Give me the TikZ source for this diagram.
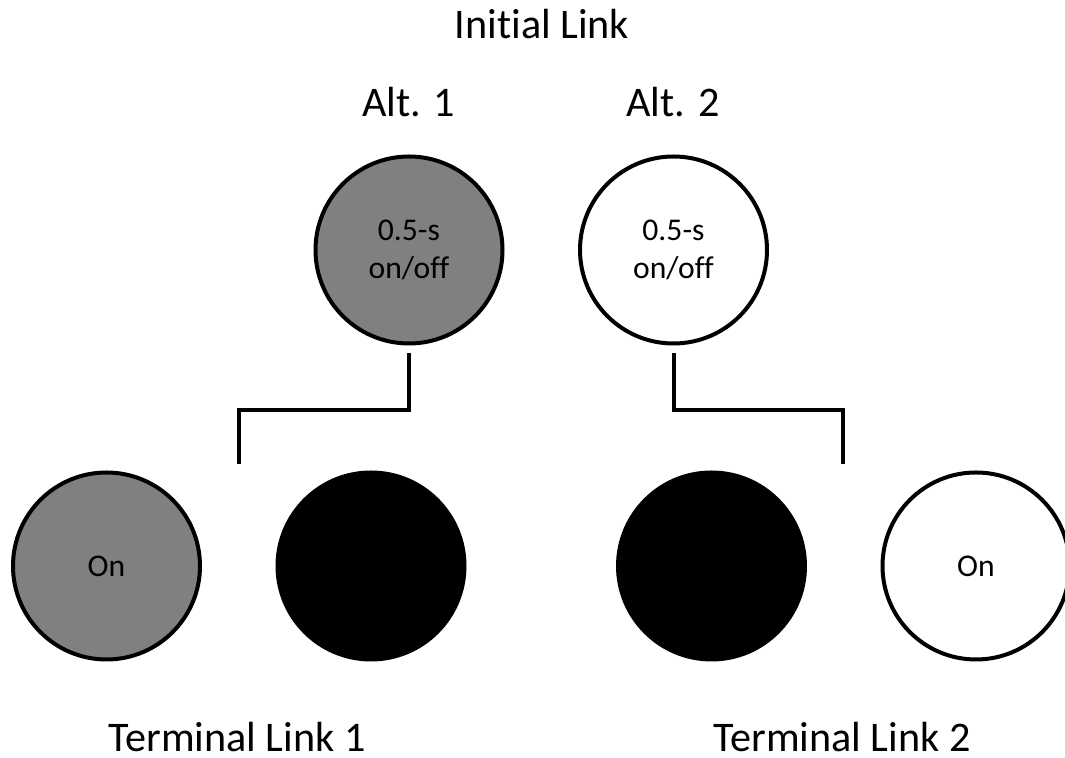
\documentclass[tikz,border=0pt]{standalone}
\usepackage{fontspec}
\setmainfont{Carlito}[Ligatures=CommonOff]
\definecolor{altgray}{RGB}{128, 128, 128}
\usetikzlibrary{positioning}
\tikzset{
  linkcircle/.style={circle, draw=black, line width=0.08cm, minimum size=3.74cm, inner sep=0pt, align=center, font=\fontsize{18}{21.6}\selectfont},
  heading/.style={anchor=base, font=\fontsize{24}{29}\selectfont},
  linkline/.style={line width=0.08cm}
}

\begin{document}
\begin{tikzpicture}
  \useasboundingbox (0, 0) rectangle (21.3, 15.16);

  % Initial link
  \node[heading] (init) at (10.84, 14.38) {Initial Link};
  \node[heading] (alt1lab) at (8.17, 12.82) {Alt. 1};
  \node[heading] (alt2lab) at (13.46, 12.82) {Alt. 2};

  \node[linkcircle, fill=altgray] (alt1) at (8.18, 10.16) {0.5-s\\on/off};
  \node[linkcircle, fill=white] (alt2) at (13.47, 10.16) {0.5-s\\on/off};

  % Terminal links
  \node[linkcircle, fill=altgray] (on1) at (2.13, 3.84) {On};
  \node[linkcircle, fill=black] (off1) at (7.42, 3.84) {};
  \node[linkcircle, fill=black] (off2) at (14.23, 3.84) {};
  \node[linkcircle, fill=white] (on2) at (19.52, 3.84) {On};

  \node[heading] (term1) at (4.74, 0.12) {Terminal Link 1};
  \node[heading] (term2) at (16.84, 0.12) {Terminal Link 2};

  % Connectors
  \coordinate (split1) at (4.78, 5.88);
  \coordinate (split2) at (16.86, 5.88);
  \draw[linkline] ([yshift=-0.15cm]alt1.south) -- ++(0, -1.14) -| (split1);
  \draw[linkline] ([yshift=-0.15cm]alt2.south) -- ++(0, -1.14) -| (split2);
\end{tikzpicture}
\end{document}
